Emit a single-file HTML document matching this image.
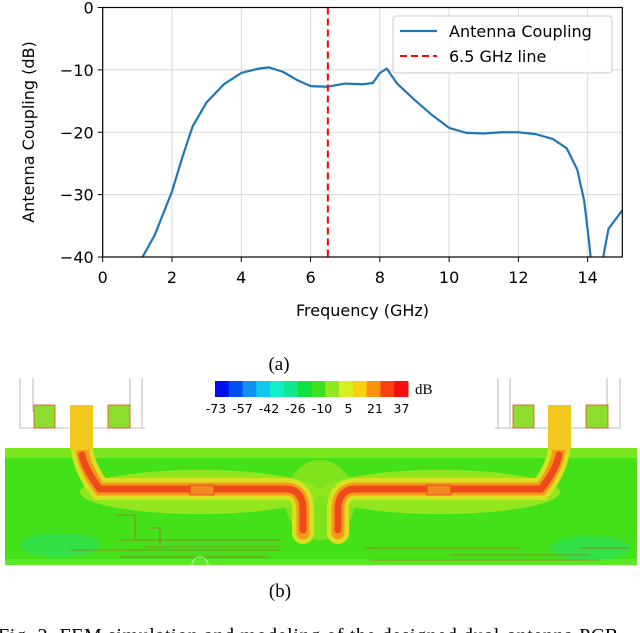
<!DOCTYPE html>
<html><head><meta charset="utf-8"><style>
html,body{margin:0;padding:0;background:#fff;width:640px;height:633px;overflow:hidden}
svg{display:block}
text{font-family:"DejaVu Sans","Liberation Sans",sans-serif}
.serif{font-family:"Liberation Serif",serif}
</style></head><body>
<svg width="640" height="633" viewBox="0 0 640 633">
<g id="chart"></g>
<text class="serif" x="279" y="370" font-size="19" text-anchor="middle">(a)</text>

<g>
  <g id="cbar"></g>
  <text class="serif" x="415" y="394" font-size="15">dB</text>
  <g class="serif" font-size="12.5" text-anchor="middle" id="cbl"></g>
  <g stroke="#aaa" fill="none" stroke-width="0.8">
    <path d="M20 378 V428 H145 M33 378 V412 M130 378 V428 M142 378 V428"/>
    <path d="M620 378 V428 H495 M607 378 V412 M510 378 V428 M498 378 V428"/>
  </g>
  <rect x="5" y="448" width="632" height="117" fill="#44e01a"/>
  <g fill="#66dd22" opacity="0.8">
    <rect x="5" y="448" width="632" height="10" fill="#88e81e"/>
    <ellipse cx="320" cy="500" rx="35" ry="40" fill="#8ee620"/>
    <ellipse cx="200" cy="492" rx="120" ry="22" fill="#a6e820"/>
    <ellipse cx="440" cy="492" rx="120" ry="22" fill="#a6e820"/>
    <ellipse cx="60" cy="545" rx="40" ry="12" fill="#30e050"/>
    <ellipse cx="590" cy="548" rx="40" ry="12" fill="#30e050"/>
  </g>
  <rect x="5" y="559" width="632" height="6" fill="#5ae828"/>
  <g fill="none" stroke-linecap="round">
    <path d="M82 450 Q85 470 100 489 H285 Q303 489 303 510 V533" stroke="#d8e020" stroke-width="22"/>
    <path d="M559 450 Q556 470 541 489 H356 Q338 489 338 510 V533" stroke="#d8e020" stroke-width="22"/>
    <path d="M82 450 Q85 470 100 489 H285 Q303 489 303 510 V533" stroke="#f59a1a" stroke-width="13"/>
    <path d="M559 450 Q556 470 541 489 H356 Q338 489 338 510 V533" stroke="#f59a1a" stroke-width="13"/>
    <path d="M82 455 Q85 470 100 489 H285 Q303 489 303 510 V530" stroke="#ee4a1a" stroke-width="7"/>
    <path d="M559 455 Q556 470 541 489 H356 Q338 489 338 510 V530" stroke="#ee4a1a" stroke-width="7"/>
  </g>
  <rect x="70" y="405" width="23" height="45" fill="#f2c81e"/>
  <rect x="548" y="405" width="23" height="45" fill="#f2c81e"/>
  <g fill="#8fdc30" stroke="#e05020" stroke-width="0.8">
    <rect x="34" y="405" width="21" height="23"/><rect x="108" y="405" width="22" height="23"/>
    <rect x="513" y="405" width="21" height="23"/><rect x="586" y="405" width="22" height="23"/>
  </g>
  <g fill="#f08a20" stroke="#e04010" stroke-width="0.8">
    <rect x="190" y="485" width="24" height="10"/><rect x="427" y="485" width="24" height="10"/>
  </g>
  <g stroke="#c05030" fill="none" stroke-width="0.8" opacity="0.8">
    <path d="M115 515 H135 V540 M120 540 H280 M145 547 H280 M70 550 H280 M120 557 H270 M150 528 H160 V545"/>
    <path d="M365 548 H520 M450 555 H590 M370 560 H600 M580 548 H630"/>
    <circle cx="200" cy="565" r="8" stroke="#fff"/>
  </g>
</g>
<text class="serif" x="280" y="597" font-size="19" text-anchor="middle">(b)</text>
<text class="serif" x="-2" y="642" font-size="20" letter-spacing="0.6">Fig. 2.   FEM simulation and modeling of the designed dual-antenna PCB</text>
</svg>
<script>
const freqs=[1.15,1.5,2,2.3,2.6,3,3.5,4,4.5,4.8,5.2,5.6,6,6.5,7,7.5,7.8,8,8.2,8.5,9,9.5,10,10.5,11,11.5,12,12.5,13,13.4,13.7,13.9,14.05,14.15,14.3,14.45,14.6,15];
const coupling=[-40,-36.5,-29.5,-24,-19,-15.2,-12.3,-10.5,-9.8,-9.6,-10.3,-11.6,-12.6,-12.7,-12.2,-12.3,-12.1,-10.5,-9.8,-12.2,-14.8,-17.2,-19.3,-20.1,-20.2,-20,-20,-20.3,-21.1,-22.6,-26,-31,-38,-44,-44,-40,-35.5,-32.5];
const xTicks=[0,2,4,6,8,10,12,14];
const yTicks=[0,-10,-20,-30,-40];
const markerFreq=[6.5];
const cbarLabels=["-73","-57","-42","-26","-10","5","21","37"];
const cbarColors=["#0010ee","#0050f0","#1090f0","#10c8f0","#10f0c8","#10e890","#10e040","#40e020","#90e820","#d8f020","#f8d010","#f89010","#f84010","#f01010"];

const NS="http://www.w3.org/2000/svg";
const X0=102.7,X1=622.3,Y0=7.5,Y1=257;
const xs=v=>X0+(v/15)*(X1-X0);
const ys=v=>Y0+(-v/40)*(Y1-Y0);
function mk(tag,attrs,parent){const e=document.createElementNS(NS,tag);for(const k in attrs)e.setAttribute(k,attrs[k]);parent.appendChild(e);return e;}
const g=document.getElementById('chart');
const defs=mk('defs',{},g);
const cp=mk('clipPath',{id:'pc'},defs);mk('rect',{x:X0,y:Y0,width:X1-X0,height:Y1-Y0},cp);
xTicks.forEach(t=>{const l=mk('line',{x1:xs(t),x2:xs(t),y1:Y0,y2:Y1,stroke:'#d8d8d8','stroke-width':1},g);


const tk=mk('line',{x1:xs(t),x2:xs(t),y1:Y1,y2:Y1+5,stroke:'#000','stroke-width':1},g);


const tx=mk('text',{x:xs(t),y:Y1+26,'font-size':16,'text-anchor':'middle'},g);tx.textContent=t;

});
yTicks.forEach(t=>{const l=mk('line',{x1:X0,x2:X1,y1:ys(t),y2:ys(t),stroke:'#d8d8d8','stroke-width':1},g);


const tk=mk('line',{x1:X0-5,x2:X0,y1:ys(t),y2:ys(t),stroke:'#000','stroke-width':1},g);


const tx=mk('text',{x:X0-9,y:ys(t)+6,'font-size':16,'text-anchor':'end'},g);tx.textContent=t===0?'0':'\u2212'+Math.abs(t);

});
const line=mk('polyline',{points:freqs.map((f,i)=>xs(f)+','+ys(coupling[i])).join(' '),fill:'none',stroke:'#1f77b4','stroke-width':2.2,'stroke-linejoin':'round','clip-path':'url(#pc)'},g);


markerFreq.forEach(f=>{const v=mk('line',{x1:xs(f),x2:xs(f),y1:Y0,y2:Y1,stroke:'#ff0000','stroke-width':2,'stroke-dasharray':'7,4'},g);

});
const fr=mk('rect',{x:X0,y:Y0,width:X1-X0,height:Y1-Y0,fill:'none',stroke:'#000','stroke-width':1.2},g);


const xl=mk('text',{x:(X0+X1)/2,y:316,'font-size':16,'text-anchor':'middle'},g);xl.textContent='Frequency (GHz)';


const yl=mk('text',{x:0,y:0,'font-size':16,'text-anchor':'middle',transform:'translate(34,132) rotate(-90)'},g);yl.textContent='Antenna Coupling (dB)';


const lg=mk('g',{},g);


mk('rect',{x:393,y:16,width:219,height:57,rx:3,fill:'#fff','fill-opacity':0.85,stroke:'#ccc'},lg);
mk('line',{x1:400,x2:437,y1:31,y2:31,stroke:'#1f77b4','stroke-width':2.2},lg);
mk('line',{x1:400,x2:437,y1:56,y2:56,stroke:'#ff0000','stroke-width':2,'stroke-dasharray':'7,4'},lg);
const t1=mk('text',{x:449,y:37,'font-size':16},lg);t1.textContent='Antenna Coupling';


const t2=mk('text',{x:449,y:62,'font-size':16},lg);t2.textContent='6.5 GHz line';


const cb=document.getElementById('cbar');const cw=(408-215)/cbarColors.length;
cbarColors.forEach((c,i)=>{const r=mk('rect',{x:215+i*cw,y:381,width:cw+0.5,height:16,fill:c},cb);

});
const cl=document.getElementById('cbl');
cbarLabels.forEach((s,i)=>{const t=mk('text',{x:216+i*26.5,y:413},cl);t.textContent=s;

});
</script>
</body></html>
